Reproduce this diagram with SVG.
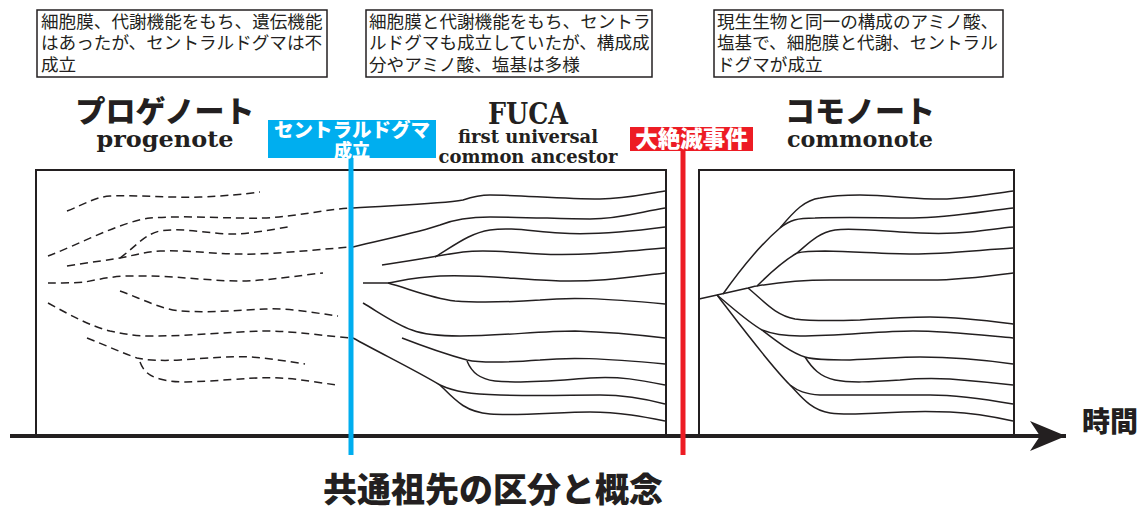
<svg xmlns="http://www.w3.org/2000/svg" width="1143" height="509" viewBox="0 0 1143 509">
<style>
.box{fill:#fff;stroke:#231f20;stroke-width:1.5}
.bt{font-family:"Noto Sans CJK JP",sans-serif;font-size:17.6px;fill:#231f20}
.jt{font-family:"Noto Sans CJK JP",sans-serif;font-weight:900;fill:#231f20}
.et{font-family:"DejaVu Serif","Liberation Serif",serif;font-weight:bold;fill:#231f20}
.panel{fill:#fff;stroke:#231f20;stroke-width:2}
.ln{fill:none;stroke:#231f20;stroke-width:1.5}
.dl{fill:none;stroke:#231f20;stroke-width:1.5;stroke-dasharray:8 5}
.wt{font-family:"Noto Sans CJK JP",sans-serif;font-weight:900;fill:#fff}
</style>
<defs>
<marker id="ah" markerUnits="userSpaceOnUse" markerWidth="40" markerHeight="34" refX="36" refY="16" orient="auto" viewBox="0 0 40 34">
<path d="M0,1 L36,16 L0,31 L10,16 Z" fill="#231f20"/>
</marker>
</defs>
<rect width="1143" height="509" fill="#fff"/>

<g id="note1">
<rect class="box" x="37" y="10" width="290" height="67"/>
<text class="bt" x="41" y="27.5">細胞膜、代謝機能をもち、遺伝機能</text>
<text class="bt" x="41" y="49">はあったが、セントラルドグマは不</text>
<text class="bt" x="41" y="70.5">成立</text>
</g>
<g id="note2">
<rect class="box" x="366" y="10" width="286" height="67"/>
<text class="bt" x="369" y="27.5">細胞膜と代謝機能をもち、セントラ</text>
<text class="bt" x="369" y="49">ルドグマも成立していたが、構成成</text>
<text class="bt" x="369" y="70.5">分やアミノ酸、塩基は多様</text>
</g>
<g id="note3">
<rect class="box" x="714" y="10" width="289" height="67"/>
<text class="bt" x="717" y="27.5">現生生物と同一の構成のアミノ酸、</text>
<text class="bt" x="717" y="49">塩基で、細胞膜と代謝、セントラル</text>
<text class="bt" x="717" y="70.5">ドグマが成立</text>
</g>

<g id="title-progenote">
<text class="jt" x="165" y="121.5" font-size="30" text-anchor="middle">プロゲノート</text>
<text class="et" x="165" y="146.5" font-size="22" text-anchor="middle" textLength="137" lengthAdjust="spacingAndGlyphs">progenote</text>
</g>
<g id="title-fuca">
<text class="et" x="528" y="124" font-size="29" text-anchor="middle" textLength="80" lengthAdjust="spacingAndGlyphs">FUCA</text>
<text class="et" x="528" y="143.3" font-size="19" text-anchor="middle" textLength="140" lengthAdjust="spacingAndGlyphs">first universal</text>
<text class="et" x="528" y="162.7" font-size="19" text-anchor="middle" textLength="179" lengthAdjust="spacingAndGlyphs">common ancestor</text>
</g>
<g id="title-commonote">
<text class="jt" x="860" y="121.5" font-size="30" text-anchor="middle">コモノート</text>
<text class="et" x="860" y="146.5" font-size="22" text-anchor="middle" textLength="146" lengthAdjust="spacingAndGlyphs">commonote</text>
</g>

<g id="panel-left">
<rect class="panel" x="36" y="170" width="630" height="266"/>
</g>
<g id="panel-right">
<rect class="panel" x="699" y="170" width="315" height="266"/>
</g>

<g id="connectors">
<!-- progenote dashed lineages -->
<path class="dl" d="M67,211 C85,204 95,197 110,196 C140,195 170,198 200,197 C225,196 245,194 260,192"/>
<path class="dl" d="M48,256 C80,244 120,222 150,218 C190,215 230,219 263,218 C295,217 320,210 351,208"/>
<path class="dl" d="M120,258 C135,247 145,234 160,231 C185,227 215,235 237,234 C255,233 275,229 288,227"/>
<path class="dl" d="M67,266 C90,262 110,260 120,258 C135,255 145,252 160,251 C190,250 215,254 237,254 C270,255 310,250 351,247"/>
<path class="dl" d="M48,283 C60,283 75,283 85,282 C100,279 115,276 130,276 C170,275 210,281 237,281 C270,281 300,275 323,273"/>
<path class="dl" d="M120,291 C140,298 160,309 180,311 C210,313 240,310 265,309 C290,308 315,313 338,316"/>
<path class="dl" d="M48,303 C70,315 90,326 110,331 C125,334 135,336 150,336 C190,336 230,332 263,331 C295,331 325,336 351,338"/>
<path class="dl" d="M87,338 C105,345 120,352 137,358 C145,360 160,361 180,360 C210,358 230,356 250,357 C270,358 290,362 305,364"/>
<path class="dl" d="M140,362 C143,370 148,376 160,379 C175,383 190,382 210,381 C240,379 260,377 280,378 C300,379 320,383 338,385"/>

<!-- FUCA solid lineages -->
<path class="ln" d="M353,208 C400,205 440,204 463,200 C475,196 483,195 490,195 C520,195 560,199 600,199 C625,199 645,194 665,191"/>
<path class="ln" d="M353,247 C390,238 420,232 440,225 C455,219 470,217 490,217 C530,217 560,219 590,219 C620,219 640,212 665,208"/>
<path class="ln" d="M435,257 C455,245 470,233 490,230 C510,227 530,231 560,233 C590,235 620,233 665,227"/>
<path class="ln" d="M382,265 C410,261 430,257 463,252 C490,249 515,253 540,254 C580,256 620,252 665,248"/>
<path class="ln" d="M363,283 L388,283 C400,281 415,277 440,276 C480,274 520,280 560,281 C600,282 630,277 665,273"/>
<path class="ln" d="M388,283 C410,289 430,298 455,301 C480,303 510,302 540,300 C570,297 600,298 665,304"/>
<path class="ln" d="M363,303 C380,313 395,324 412,330 C425,335 440,336 460,336 C500,336 540,331 575,331 C610,332 640,335 665,338"/>
<path class="ln" d="M402,338 C420,345 445,354 467,360 C480,363 500,363 540,360 C570,357 600,358 665,364"/>
<path class="ln" d="M467,361 C472,373 480,379 495,381 C520,384 560,380 590,378 C620,376 640,380 665,385"/>
<path class="ln" d="M353,338 C380,353 415,370 440,385 C455,392 470,394 500,395 C540,396 570,395 600,395 C630,395 650,400 665,404"/>
<path class="ln" d="M440,385 C455,400 465,412 490,414 C520,416 560,412 590,412 C620,412 645,417 665,421"/>

<!-- commonote solid lineages -->
<path class="ln" d="M699,299 L717,295 L748,288 C752,287 755,286 757,286 C780,282 800,280 830,280 C870,280 900,280 930,280 C960,280 990,276 1013,273"/>
<path class="ln" d="M723,294 C740,270 760,245 780,228"/>
<path class="ln" d="M780,228 C795,210 805,200 820,198 C835,195 845,195 860,195 C890,195 920,200 947,199 C970,198 990,194 1013,191"/>
<path class="ln" d="M780,228 C790,220 797,218 815,218 C850,217 880,218 913,218 C945,218 980,212 1013,208"/>
<path class="ln" d="M757,286 C770,273 785,260 797,253"/>
<path class="ln" d="M797,253 C810,242 818,233 835,230 C850,228 870,230 900,232 C930,234 950,234 970,232 C990,230 1000,228 1013,227"/>
<path class="ln" d="M797,253 C805,251 812,251 825,251 C860,252 890,254 913,254 C945,254 980,250 1013,248"/>
<path class="ln" d="M748,288 C765,302 775,315 795,319 C810,321 830,321 860,320 C890,318 910,317 930,317 C960,317 990,321 1013,324"/>
<path class="ln" d="M717,295 C735,310 748,322 762,330 C772,334 785,336 800,336 C840,336 880,331 913,331 C945,331 980,335 1013,338"/>
<path class="ln" d="M762,330 C775,340 790,352 805,357 C815,360 830,360 850,360 C880,359 900,357 920,357 C950,357 985,360 1013,364"/>
<path class="ln" d="M805,357 C812,368 820,377 835,380 C850,383 870,382 900,380 C920,378 930,378 950,379 C975,381 995,383 1013,385"/>
<path class="ln" d="M717,295 C740,325 770,365 790,385 C798,391 805,394 820,395 C860,395 900,395 930,395 C960,395 990,400 1013,404"/>
<path class="ln" d="M790,385 C800,395 810,410 830,413 C845,415 860,414 880,413 C910,411 930,411 950,412 C975,413 995,417 1013,421"/>

<!-- time axis -->
<line x1="10" y1="436" x2="1066" y2="436" stroke="#231f20" stroke-width="4" marker-end="url(#ah)"/>
<!-- event markers -->
<line x1="351" y1="158" x2="351" y2="455" stroke="#00aeef" stroke-width="5"/>
<line x1="683" y1="151" x2="683" y2="455" stroke="#ed1c24" stroke-width="5"/>
</g>

<g id="label-dogma">
<rect x="268" y="120" width="168" height="38" fill="#00aeef"/>
<text class="wt" x="352" y="137" font-size="19.5" text-anchor="middle">セントラルドグマ</text>
<text class="wt" x="352" y="157" font-size="18" text-anchor="middle">成立</text>
</g>
<g id="label-extinction">
<rect x="630" y="127" width="123" height="24" fill="#ed1c24"/>
<text class="wt" x="691.5" y="147" font-size="22.5" text-anchor="middle">大絶滅事件</text>
</g>

<g id="label-time">
<text class="jt" x="1110" y="432" font-size="28" text-anchor="middle">時間</text>
</g>
<g id="caption">
<text class="jt" x="493" y="502" font-size="34" text-anchor="middle">共通祖先の区分と概念</text>
</g>
</svg>
